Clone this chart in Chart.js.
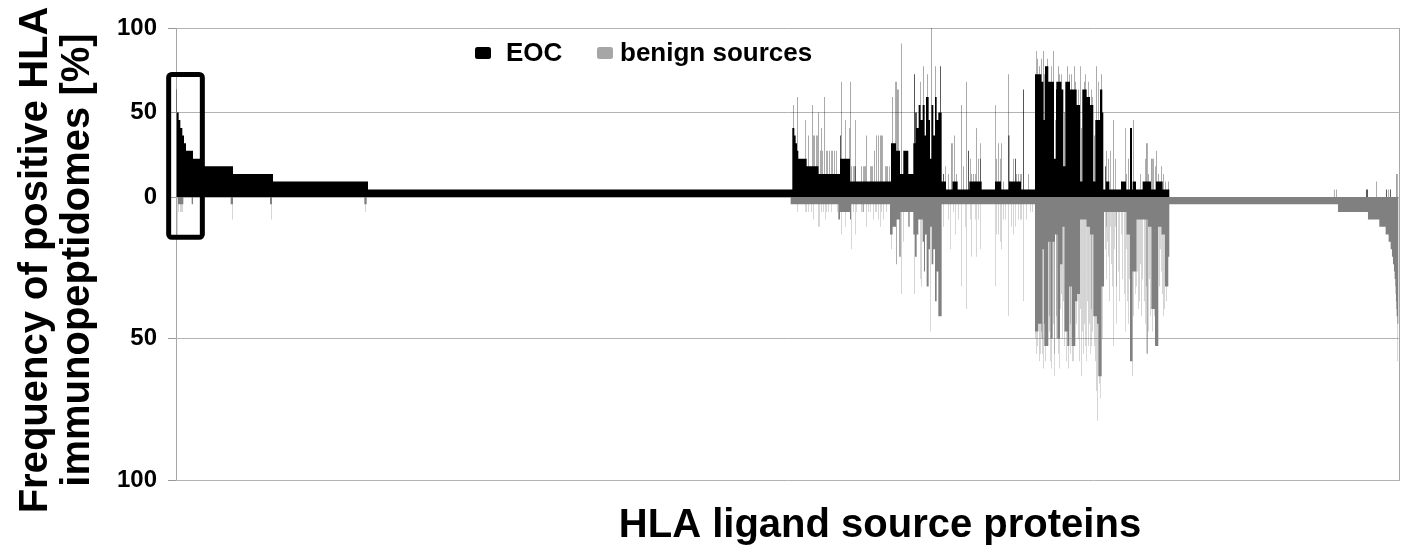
<!DOCTYPE html>
<html>
<head>
<meta charset="utf-8">
<title>HLA ligand source proteins</title>
<script src="https://cdn.jsdelivr.net/npm/chart.js@4/dist/chart.umd.min.js"></script>
<style>
  html, body { margin: 0; background: #fff; }
  #wrap { position: relative; width: 1406px; height: 545px; }
</style>
</head>
<body>
<div id="wrap"><canvas id="chart"></canvas></div>
<script>
// protein ranks along the x axis (source proteins sorted by group)
const TOTAL_PROTEINS = 3670;

const seriesLabels = ['EOC', 'benign sources'];
const yTicks = [0, 50, 100];

// [first rank, frequency %] - value holds until the next entry
const eocSteps = [
  [3, 50], [8, 45.5], [13, 40.9], [19, 36.4], [24, 31.8], [30, 27.3], [51, 22.7], [75, 18.2],
  [171, 13.6], [291, 9.1], [576, 4.5],
  [1849, 40.9], [1855, 36.4], [1859, 31.8], [1863, 27.3], [1867, 22.7], [1892, 18.2], [1927, 13.6],
  [1992, 22.7], [2022, 9.1], [2145, 31.8], [2160, 27.3], [2172, 13.6], [2182, 27.3], [2197, 13.6],
  [2212, 31.8], [2218, 50], [2222, 40.9], [2228, 54.5], [2234, 45.5], [2240, 54.5], [2246, 36.4],
  [2252, 59.1], [2258, 45.5], [2262, 22.7], [2266, 54.5], [2272, 36.4], [2277, 59.1], [2282, 45.5],
  [2287, 50], [2297, 9.1], [2310, 4.5], [2330, 9.1], [2345, 4.5], [2380, 9.1], [2417, 4.5],
  [2457, 9.1], [2475, 4.5], [2500, 9.1], [2535, 4.5],
  [2577, 72.7], [2597, 68.2], [2602, 45.5], [2607, 77.3], [2617, 68.2], [2634, 22.7], [2641, 68.2],
  [2657, 63.6], [2662, 18.2], [2668, 68.2], [2682, 63.6], [2702, 54.5], [2712, 9.1], [2719, 63.6],
  [2732, 59.1], [2742, 54.5], [2752, 9.1], [2758, 45.5], [2772, 63.6], [2779, 50],
  [2782, 4.5], [2790, 9.1], [2800, 4.5], [2835, 9.1], [2850, 4.5], [2870, 9.1], [2880, 4.5],
  [2900, 9.1], [2925, 4.5], [2940, 9.1], [2960, 4.5], [2980, 0]
];

// single proteins standing out of the steps: [rank, frequency %, proteins wide]
const eocSpikes = [
  [1, 63.6],
  [1852, 54.5], [1864, 59.1], [1887, 45.5], [1897, 36.4], [1909, 54.5], [1912, 36.4], [1916, 36.4],
  [1920, 36.4], [1923, 36.4], [1927, 50], [1933, 27.3], [1937, 40.9], [1940, 27.3], [1945, 59.1],
  [1950, 27.3], [1955, 27.3], [1960, 27.3], [1965, 27.3], [1970, 27.3], [1975, 27.3], [1980, 27.3],
  [1992, 36.4, 2], [1997, 68.2], [2007, 45.5], [2019, 40.9], [2024, 68.2], [2027, 18.2], [2031, 18.2],
  [2035, 18.2], [2037, 45.5], [2039, 18.2], [2057, 18.2], [2061, 18.2], [2065, 18.2], [2069, 18.2],
  [2072, 36.4], [2082, 18.2], [2086, 18.2], [2090, 18.2], [2095, 27.3], [2102, 36.4], [2108, 36.4],
  [2114, 36.4], [2117, 36.4, 2], [2127, 18.2], [2131, 18.2], [2135, 18.2], [2139, 18.2],
  [2150, 59.1], [2157, 68.2], [2162, 68.2], [2165, 63.6, 2], [2177, 90.9], [2195, 27.3, 2],
  [2215, 72.7, 2], [2232, 68.2], [2242, 77.3], [2250, 59.1, 2], [2255, 72.7], [2267, 100],
  [2279, 77.3], [2292, 77.3, 2],
  [2302, 13.6, 2], [2307, 18.2], [2317, 13.6], [2327, 31.8, 2], [2335, 36.4], [2342, 13.6],
  [2357, 54.5], [2362, 18.2], [2372, 68.2], [2377, 27.3, 2], [2382, 22.7], [2387, 13.6], [2392, 13.6],
  [2397, 13.6], [2402, 40.9], [2407, 22.7], [2412, 31.8], [2414, 22.7],
  [2457, 54.5], [2462, 22.7], [2467, 31.8], [2472, 22.7], [2477, 31.8], [2482, 9.1], [2497, 72.7],
  [2498, 36.4, 2], [2512, 22.7], [2517, 22.7, 2], [2522, 13.6], [2527, 13.6], [2532, 13.6],
  [2537, 13.6], [2542, 63.6, 2], [2557, 13.6],
  [2580, 86.4], [2585, 81.8], [2591, 77.3], [2596, 81.8], [2602, 86.4], [2606, 72.7], [2614, 81.8],
  [2625, 77.3], [2632, 86.4], [2637, 45.5], [2640, 63.6], [2647, 77.3], [2650, 72.7], [2655, 72.7],
  [2665, 50], [2668, 59.1], [2674, 77.3], [2679, 72.7], [2687, 72.7], [2695, 77.3], [2699, 68.2],
  [2706, 63.6], [2712, 77.3], [2716, 40.9], [2725, 68.2], [2727, 72.7], [2736, 68.2], [2745, 63.6],
  [2748, 59.1], [2756, 36.4], [2762, 77.3], [2766, 68.2], [2776, 72.7],
  [2787, 18.2, 2], [2792, 27.3], [2797, 22.7], [2802, 27.3], [2812, 45.5], [2817, 22.7], [2847, 40.9],
  [2852, 13.6], [2857, 22.7], [2862, 40.9, 6], [2872, 45.5], [2877, 9.1], [2892, 13.6], [2907, 22.7],
  [2912, 31.8, 2], [2917, 13.6], [2927, 22.7, 2], [2932, 22.7], [2937, 18.2], [2942, 27.3],
  [2947, 13.6], [2957, 18.2], [2962, 13.6], [2967, 9.1], [2977, 9.1],
  [3474, 4.5], [3482, 4.5], [3570, 4.5, 2], [3574, 4.5, 2], [3602, 9.1], [3630, 4.5, 2],
  [3636, 4.5], [3642, 4.5, 2], [3662, 13.6, 2]
];

const benignSteps = [
  [1844, 2.6], [1987, 7.9], [1992, 5.3], [2022, 7.9], [2026, 2.6],
  [2142, 13.2], [2150, 10.5], [2160, 7.9], [2170, 21.1], [2174, 5.3], [2197, 10.5], [2201, 5.3],
  [2212, 13.2], [2217, 21.1], [2222, 13.2], [2227, 7.9], [2240, 15.8], [2244, 26.3], [2247, 13.2],
  [2252, 31.6], [2258, 18.4], [2262, 10.5], [2267, 23.7], [2272, 18.4], [2277, 36.8], [2282, 26.3],
  [2287, 42.1], [2297, 2.6],
  [2577, 47.4], [2587, 44.7], [2597, 50], [2600, 18.4], [2605, 52.6], [2617, 15.8], [2624, 50],
  [2630, 15.8], [2637, 13.2], [2644, 50], [2652, 23.7], [2660, 10.5], [2667, 47.4], [2674, 52.6],
  [2680, 31.6], [2687, 52.6], [2697, 36.8], [2704, 34.2], [2712, 7.9], [2732, 10.5], [2742, 13.2],
  [2752, 42.1], [2762, 44.7], [2767, 63.2], [2777, 31.6], [2784, 5.3], [2852, 13.2], [2862, 57.9],
  [2870, 26.3], [2882, 7.9], [2917, 10.5], [2927, 39.5], [2937, 52.6], [2947, 10.5], [2957, 13.2],
  [2967, 31.6], [2977, 21.1], [2980, 2.6],
  [3486, 5.3], [3576, 7.9], [3610, 10.5], [3629, 13.2], [3638, 15.8], [3644, 18.4], [3648, 21.1],
  [3651, 23.7], [3654, 26.3], [3656, 28.9], [3658, 31.6], [3659, 34.2], [3660, 36.8], [3661, 39.5],
  [3662, 42.1], [3664, 44.7], [3667, 0]
];

const benignSpikes = [
  [4, 13.2], [6, 2.6, 16], [8, 5.3], [12, 5.3], [17, 5.3], [20, 5.3], [47, 2.6, 4], [164, 2.6, 7],
  [168, 7.9], [282, 2.6, 6], [285, 7.9], [565, 2.6, 7], [569, 5.3],
  [1864, 5.3], [1887, 5.3], [1892, 5.3], [1897, 5.3], [1907, 5.3], [1912, 7.9], [1927, 10.5],
  [1930, 10.5], [1937, 5.3], [1942, 5.3], [1947, 7.9], [1952, 5.3], [1957, 5.3], [1965, 5.3],
  [1985, 5.3], [1997, 13.2], [2007, 10.5], [2025, 18.4], [2032, 5.3], [2037, 13.2], [2042, 5.3],
  [2057, 5.3, 2], [2062, 5.3, 2], [2072, 10.5], [2077, 5.3], [2082, 5.3], [2092, 7.9], [2097, 5.3],
  [2102, 5.3], [2107, 7.9], [2112, 10.5], [2117, 5.3], [2122, 7.9], [2132, 5.3],
  [2147, 18.4], [2160, 23.7, 2], [2177, 34.2], [2182, 15.8], [2192, 5.3], [2215, 34.2], [2232, 28.9],
  [2236, 31.6], [2262, 47.4],
  [2302, 10.5], [2317, 7.9], [2322, 18.4], [2332, 5.3], [2337, 13.2], [2347, 7.9], [2357, 31.6],
  [2367, 10.5], [2372, 39.5], [2382, 7.9], [2387, 21.1], [2397, 7.9], [2402, 21.1], [2407, 7.9],
  [2412, 18.4],
  [2457, 31.6], [2462, 13.2], [2467, 13.2], [2472, 15.8], [2477, 18.4], [2482, 7.9], [2487, 7.9],
  [2497, 42.1], [2507, 10.5], [2512, 13.2], [2517, 10.5], [2527, 7.9], [2532, 7.9], [2537, 7.9],
  [2542, 36.8], [2552, 7.9], [2562, 5.3], [2570, 5.3],
  [2579, 50], [2582, 55.3], [2585, 52.6], [2590, 57.9], [2592, 55.3], [2595, 47.4], [2599, 55.3],
  [2602, 60.5], [2604, 44.7], [2609, 57.9], [2613, 50], [2619, 42.1], [2620, 47.4], [2622, 57.9],
  [2627, 60.5], [2632, 44.7], [2634, 63.2], [2636, 55.3], [2640, 42.1], [2642, 50], [2646, 55.3],
  [2649, 60.5], [2654, 39.5], [2657, 34.2], [2658, 50], [2662, 36.8], [2664, 47.4], [2666, 52.6],
  [2671, 57.9], [2677, 60.5], [2682, 55.3], [2684, 44.7], [2689, 57.9], [2692, 57.9], [2694, 50],
  [2699, 52.6], [2702, 44.7], [2706, 50], [2710, 57.9], [2714, 39.5], [2717, 63.2], [2719, 47.4],
  [2722, 55.3], [2725, 44.7], [2727, 52.6], [2730, 57.9], [2734, 36.8], [2737, 52.6], [2739, 44.7],
  [2742, 55.3], [2745, 39.5], [2747, 52.6], [2750, 47.4], [2755, 52.6], [2759, 57.9], [2762, 68.4],
  [2764, 78.9], [2770, 65.8], [2772, 71.1], [2775, 60.5], [2780, 50],
  [2787, 18.4], [2790, 28.9], [2792, 10.5], [2795, 15.8], [2797, 21.1], [2800, 36.8], [2802, 10.5],
  [2806, 23.7], [2809, 31.6], [2812, 52.6], [2814, 18.4], [2817, 10.5], [2820, 44.7], [2822, 31.6],
  [2826, 26.3], [2830, 36.8], [2835, 13.2], [2840, 28.9], [2844, 34.2], [2847, 47.4], [2850, 18.4],
  [2855, 36.8], [2857, 44.7], [2860, 28.9], [2866, 50], [2869, 63.2], [2873, 42.1], [2877, 34.2],
  [2880, 31.6], [2884, 26.3], [2887, 39.5], [2890, 36.8], [2894, 23.7], [2897, 42.1], [2900, 28.9],
  [2904, 36.8], [2907, 44.7], [2910, 31.6], [2912, 55.3, 3], [2916, 47.4], [2920, 28.9], [2922, 42.1],
  [2925, 39.5], [2930, 47.4], [2934, 42.1], [2944, 50], [2950, 31.6], [2952, 18.4], [2955, 26.3],
  [2959, 34.2], [2962, 42.1], [2965, 39.5], [2969, 26.3], [2972, 36.8], [2975, 28.9],
  [3664, 57.9]
];

// highlighted top EOC-exclusive proteins, in data units
const focusBox = { fromRank: -22, toRank: 79, eocTop: 72.5, benignDepth: 14.2 };

const FONT = '"Liberation Sans", Arial, Helvetica, sans-serif';
const EOC_COLOR = '#000000';
const BENIGN_COLOR = '#808080';
const BENIGN_KEY = '#a6a6a6';
const GRID = '#b3b3b3';

// one point per protein, so a lone protein is a hair-thin spike
function perProtein(steps, spikes) {
  const out = new Array(TOTAL_PROTEINS).fill(0);
  steps.forEach(([start, v], i) => {
    const end = i + 1 < steps.length ? steps[i + 1][0] : TOTAL_PROTEINS;
    for (let k = start; k < end; k++) out[k] = v;
  });
  spikes.forEach(([at, v, width = 1]) => {
    for (let k = at; k < at + width; k++) out[k] = Math.max(out[k], v);
  });
  const pts = out.map((y, x) => ({ x, y }));
  pts.push({ x: TOTAL_PROTEINS, y: out[TOTAL_PROTEINS - 1] });
  return pts;
}

const frameLines = {
  id: 'frameLines',
  afterDatasetsDraw(chart) {
    const { ctx } = chart;
    const x = chart.scales.x, top = chart.scales.yEoc, bottom = chart.scales.yBenign;
    const l = x.getPixelForValue(focusBox.fromRank);
    const r = x.getPixelForValue(focusBox.toRank);
    const t = top.getPixelForValue(focusBox.eocTop);
    const b = bottom.getPixelForValue(focusBox.benignDepth);
    ctx.save();
    ctx.strokeStyle = '#000';
    ctx.lineWidth = 5;
    ctx.beginPath();
    ctx.roundRect(l, t, r - l, b - t, 3);
    ctx.stroke();
    ctx.restore();
  }
};

const keyAndTitles = {
  id: 'keyAndTitles',
  afterDraw(chart) {
    const { ctx } = chart;
    ctx.save();
    ctx.fillStyle = '#000';
    ctx.textBaseline = 'middle';

    // legend inside the plot
    ctx.font = 'bold 26px ' + FONT;
    const keys = [
      { x: 475, color: EOC_COLOR, label: seriesLabels[0], gap: 31 },
      { x: 597, color: BENIGN_KEY, label: seriesLabels[1], gap: 23 }
    ];
    keys.forEach(k => {
      ctx.fillStyle = k.color;
      ctx.beginPath();
      ctx.roundRect(k.x, 47, 16, 12, 2.5);
      ctx.fill();
      ctx.fillStyle = '#000';
      ctx.textAlign = 'left';
      ctx.fillText(k.label, k.x + k.gap, 54);
    });

    // axis titles
    ctx.font = 'bold 40px ' + FONT;
    ctx.textAlign = 'center';
    ctx.textBaseline = 'alphabetic';
    ctx.fillText('HLA ligand source proteins', 880, 537);

    const lines = ['Frequency of positive HLA', 'immunopeptidomes [%]'];
    [47, 89].forEach((bx, i) => {
      ctx.save();
      ctx.translate(bx, 260);
      ctx.rotate(-Math.PI / 2);
      ctx.fillText(lines[i], 0, 0);
      ctx.restore();
    });
    ctx.restore();
  }
};

const tickFont = { family: FONT, size: 24, weight: 'bold' };

function freqAxis(weight, reverse) {
  return {
    type: 'linear',
    position: 'left',
    stack: 'freq',
    stackWeight: weight,
    reverse: reverse,
    min: 0,
    max: 100,
    afterBuildTicks: s => { s.ticks = yTicks.map(value => ({ value })); },
    afterFit: s => { s.width = 176; },
    ticks: {
      font: tickFont,
      color: '#000',
      padding: 11,
      callback: v => (reverse && v === 0 ? '' : v)
    },
    grid: { color: GRID, tickColor: '#999', tickLength: 8, lineWidth: 1 },
    border: { display: false }
  };
}

new Chart(document.getElementById('chart'), {
  type: 'line',
  data: {
    datasets: [
      {
        label: seriesLabels[0],
        data: perProtein(eocSteps, eocSpikes),
        yAxisID: 'yEoc',
        backgroundColor: EOC_COLOR,
        fill: 'origin',
        stepped: true,
        borderWidth: 0,
        pointRadius: 0
      },
      {
        label: seriesLabels[1],
        data: perProtein(benignSteps, benignSpikes),
        yAxisID: 'yBenign',
        backgroundColor: BENIGN_COLOR,
        fill: 'origin',
        stepped: true,
        borderWidth: 0,
        pointRadius: 0
      }
    ]
  },
  options: {
    responsive: true,
    maintainAspectRatio: false,
    devicePixelRatio: 1,
    animation: false,
    parsing: false,
    normalized: true,
    events: [],
    layout: { padding: { top: 28, right: 6.7, bottom: 64.5, left: 0 } },
    plugins: {
      legend: { display: false },
      tooltip: { enabled: false }
    },
    scales: {
      x: {
        type: 'linear',
        min: 0,
        max: TOTAL_PROTEINS,
        afterBuildTicks: s => { s.ticks = [{ value: 0 }, { value: TOTAL_PROTEINS }]; },
        ticks: { display: false },
        grid: { color: '#a6a6a6', drawTicks: false },
        border: { display: false }
      },
      // left stack is laid out bottom-up in declaration order
      yBenign: freqAxis(283.5, true),
      yEoc: freqAxis(169, false)
    }
  },
  plugins: [frameLines, keyAndTitles]
});
</script>
</body>
</html>
